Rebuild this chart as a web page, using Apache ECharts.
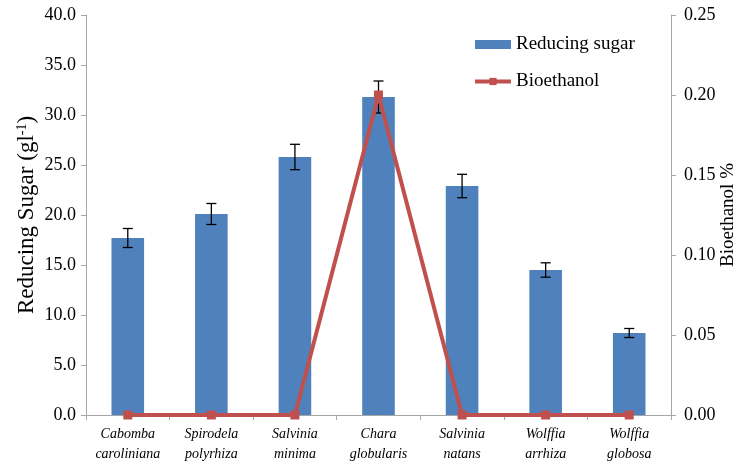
<!DOCTYPE html>
<html>
<head>
<meta charset="utf-8">
<script src="https://cdn.jsdelivr.net/npm/echarts@6/dist/echarts.min.js"></script>
<style>
  html, body { margin: 0; padding: 0; background: #fff; }
  #chart { width: 745px; height: 463px; }
</style>
</head>
<body>
<div id="chart"></div>
<script>
// Species (x-axis categories)
const species = [
  'Cabomba caroliniana',
  'Spirodela polyrhiza',
  'Salvinia minima',
  'Chara globularis',
  'Salvinia natans',
  'Wolffia arrhiza',
  'Wolffia globosa'
];
// Reducing sugar (g l-1) and its standard error
const reducingSugar = [17.7, 20.1, 25.8, 31.8, 22.9, 14.5, 8.2];
const sugarError = [0.95, 1.05, 1.27, 1.6, 1.17, 0.72, 0.45];
// Bioethanol yield (%)
const bioethanol = [0, 0, 0, 0.20, 0, 0, 0];

const serif = '"Liberation Serif", "Times New Roman", serif';
const axisGrey = '#A6A6A6';

const errorData = reducingSugar.map((v, i) => [i, v - sugarError[i], v + sugarError[i]]);

const chart = echarts.init(document.getElementById('chart'));
chart.setOption({
  animation: false,
  grid: { left: 86, right: 74, top: 15, bottom: 48, outerBoundsMode: 'none', containLabel: false },
  legend: {
    orient: 'vertical',
    left: 473,
    top: 35,
    padding: 0,
    itemGap: 18,
    itemWidth: 36,
    itemHeight: 9,
    textStyle: { fontFamily: serif, fontSize: 19, color: '#000' },
    data: [
      { name: 'Reducing sugar', icon: 'rect' },
      { name: 'Bioethanol', lineStyle: { width: 4 } }
    ]
  },
  xAxis: {
    type: 'category',
    data: species,
    axisLine: { lineStyle: { color: axisGrey, width: 1 } },
    axisTick: { show: true, length: 5, lineStyle: { color: axisGrey } },
    axisLabel: {
      interval: 0,
      margin: 9,
      fontFamily: serif,
      fontStyle: 'italic',
      fontSize: 14,
      lineHeight: 20,
      color: '#000',
      formatter: s => s.replace(' ', '\n')
    }
  },
  yAxis: [
    {
      type: 'value',
      min: 0, max: 40, interval: 5,
      position: 'left',
      name: '{a|Reducing Sugar (gl}{s|-1}{a|)}',
      nameLocation: 'middle',
      nameRotate: 90,
      nameGap: 47,
      nameMoveOverlap: false,
      nameTextStyle: {
        rich: {
          a: { fontFamily: serif, fontSize: 23, color: '#000' },
          s: { fontFamily: serif, fontSize: 14, color: '#000', verticalAlign: 'top', padding: [0, 0, 10, 0] }
        }
      },
      axisLine: { show: true, lineStyle: { color: axisGrey } },
      axisTick: { show: true, length: 5, lineStyle: { color: axisGrey } },
      splitLine: { show: false },
      axisLabel: {
        margin: 10,
        fontFamily: serif, fontSize: 18, color: '#000',
        formatter: v => v.toFixed(1)
      }
    },
    {
      type: 'value',
      min: 0, max: 0.25, interval: 0.05,
      position: 'right',
      name: 'Bioethanol %',
      nameLocation: 'middle',
      nameRotate: 90,
      nameGap: 48,
      nameMoveOverlap: false,
      nameTextStyle: { fontFamily: serif, fontSize: 19, color: '#000' },
      axisLine: { show: true, lineStyle: { color: axisGrey } },
      axisTick: { show: true, length: 5, lineStyle: { color: axisGrey } },
      splitLine: { show: false },
      axisLabel: {
        margin: 13,
        fontFamily: serif, fontSize: 18, color: '#000',
        formatter: v => v.toFixed(2)
      }
    }
  ],
  series: [
    {
      name: 'Reducing sugar',
      type: 'bar',
      data: reducingSugar,
      barWidth: '39%',
      itemStyle: { color: '#4F81BD' },
      z: 2
    },
    {
      name: 'Sugar error',
      type: 'custom',
      data: errorData,
      z: 3,
      renderItem: (params, api) => {
        const x = api.value(0);
        const lo = api.coord([x, api.value(1)]);
        const hi = api.coord([x, api.value(2)]);
        const half = 5;
        const style = { stroke: '#000', lineWidth: 1.3 };
        return {
          type: 'group',
          children: [
            { type: 'line', shape: { x1: hi[0], y1: hi[1], x2: lo[0], y2: lo[1] }, style },
            { type: 'line', shape: { x1: hi[0] - half, y1: hi[1], x2: hi[0] + half, y2: hi[1] }, style },
            { type: 'line', shape: { x1: lo[0] - half, y1: lo[1], x2: lo[0] + half, y2: lo[1] }, style }
          ]
        };
      }
    },
    {
      name: 'Bioethanol',
      type: 'line',
      yAxisIndex: 1,
      data: bioethanol,
      symbol: 'rect',
      symbolSize: 9,
      lineStyle: { color: '#C0504D', width: 4 },
      itemStyle: { color: '#C0504D' },
      z: 4
    }
  ]
});
</script>
</body>
</html>
